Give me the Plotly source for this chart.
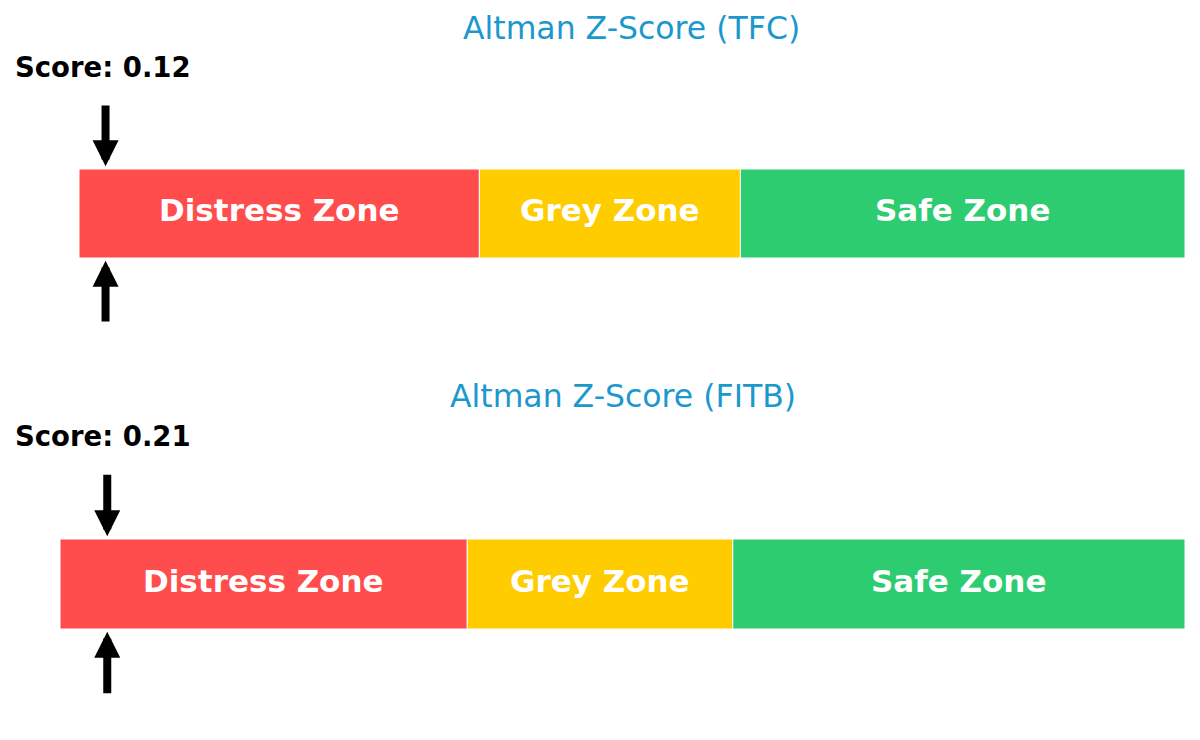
import plotly.graph_objects as go

# Zone data (Altman Z thresholds)
zone_names = ["Distress Zone", "Grey Zone", "Safe Zone"]
zone_starts = [0, 1.81, 2.99]
zone_ends = [1.81, 2.99, 5.0]
zone_colors = ["#ff4d4d", "#ffcc00", "#2ecc71"]

companies = ["TFC", "FITB"]
scores = [0.12, 0.21]

# page puts the plot 8px in from the corner, so size the figure to fit
W, H, OFF = 1184, 724, 8


def px(x):
    return (x - OFF) / W


def py(y):
    return 1 - (y - OFF) / H


fig = go.Figure()

axis_ids = [("x", "y"), ("x2", "y2")]
for i, company in enumerate(companies):
    xa, ya = axis_ids[i]
    for name, s, e, c in zip(zone_names, zone_starts, zone_ends, zone_colors):
        fig.add_trace(go.Bar(
            x=[e - s], base=[s], y=[0],
            orientation='h', width=1,
            marker=dict(color=c, line=dict(color='white', width=1)),
            hoverinfo='skip', showlegend=False,
            xaxis=xa, yaxis=ya
        ))
        # zone label in the middle of its segment
        fig.add_annotation(
            x=(s + e) / 2, y=0, xref=xa, yref=ya,
            text=name, showarrow=False, yshift=3,
            font=dict(family='DejaVu Sans', size=31, color='white', weight='bold')
        )

    # score arrows above and below the bar
    for tip, tail in [(0.53, 1.23), (-0.53, -1.23)]:
        fig.add_annotation(
            x=scores[i], y=tip, ax=scores[i], ay=tail,
            xref=xa, yref=ya, axref=xa, ayref=ya,
            text='', showarrow=True, arrowhead=2,
            arrowwidth=8, arrowsize=0.65, arrowcolor='black'
        )

# titles and score labels (paper coords)
title_y = [py(28), py(396)]
title_x = [px((79 + 1185) / 2), px((60 + 1185) / 2)]
score_y = [py(67.5), py(435.5)]
for i, company in enumerate(companies):
    fig.add_annotation(
        x=title_x[i], y=title_y[i], xref='paper', yref='paper',
        text=f"Altman Z-Score ({company})", showarrow=False,
        xanchor='center', yanchor='middle',
        font=dict(family='DejaVu Sans', size=31.5, color='#1b98cc')
    )
    fig.add_annotation(
        x=px(15), y=score_y[i], xref='paper', yref='paper',
        text=f"Score: {scores[i]:.2f}", showarrow=False,
        xanchor='left', yanchor='middle', xshift=-2,
        font=dict(family='DejaVu Sans', size=27.5, color='black', weight='bold')
    )

hidden = dict(showgrid=False, zeroline=False, showticklabels=False, ticks='', showline=False, fixedrange=True)
fig.update_layout(
    width=W, height=H,
    margin=dict(l=0, r=0, t=0, b=0),
    paper_bgcolor='white', plot_bgcolor='white',
    barmode='overlay', showlegend=False,
    xaxis=dict(domain=[px(79), px(1185)], range=[zone_starts[0], zone_ends[-1]], **hidden),
    xaxis2=dict(domain=[px(60), px(1185)], range=[zone_starts[0], zone_ends[-1]], **hidden),
    yaxis=dict(domain=[py(347), py(80)], range=[-1.5, 1.5], **hidden),
    yaxis2=dict(domain=[py(719), py(449)], range=[-1.5, 1.5], **hidden),
)

fig.write_html("out.html")
